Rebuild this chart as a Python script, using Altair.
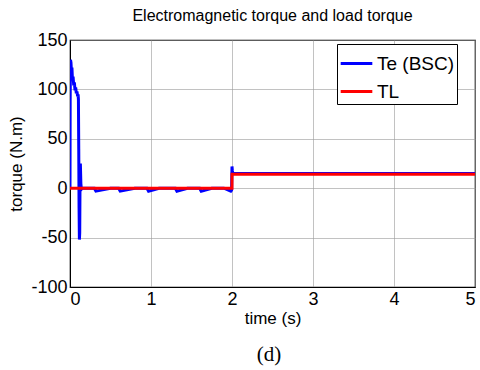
import altair as alt
import pandas as pd

# Electromagnetic torque Te (BSC) samples: start-up transient, steady ripple, load step at 2 s
te_time = [0, 0.002, 0.006, 0.012, 0.018, 0.024, 0.030, 0.038, 0.046, 0.054, 0.062,
           0.070, 0.078, 0.086, 0.094, 0.100, 0.104, 0.108, 0.112, 0.116, 0.120,
           0.124, 0.128, 0.134, 0.140, 0.15, 0.30, 0.32, 0.50, 0.60, 0.62, 0.80,
           0.95, 0.97, 1.10, 1.30, 1.32, 1.45, 1.60, 1.62, 1.75, 1.90, 1.985,
           1.995, 2.000, 2.004, 2.010, 2.030, 2.5, 3.0, 3.5, 4.0, 4.5, 5.0]
te_value = [0, 88, 130, 127, 118, 122, 110, 113, 104, 107, 99,
            102, 96, 98, 93, 95, 90, 40, -20, -52, -45,
            10, 25, 5, -1, 0, 0, -3, 0, 0, -3, 0,
            0, -3, 0, 0, -3, 0, 0, -3, 0, 0, -3,
            -2, 22, 18, 15, 15, 15, 15, 15, 15, 15, 15]

# Load torque TL: zero until 2 s, then a step
tl_time = [0, 2.0, 2.0, 5.0]
tl_value = [0, 0, 14, 14]

series_names = ["Te (BSC)", "TL"]
series_colors = ["#0000FF", "#FF0000"]

te = pd.DataFrame({"t": te_time, "v": te_value, "series": series_names[0], "order": range(len(te_time))})
tl = pd.DataFrame({"t": tl_time, "v": tl_value, "series": series_names[1], "order": range(len(tl_time))})
df = pd.concat([te, tl], ignore_index=True)

color = alt.Color(
    "series:N",
    scale=alt.Scale(domain=series_names, range=series_colors),
    legend=alt.Legend(
        title=None,
        orient="none",
        legendX=267,
        legendY=4,
        symbolType="stroke",
        symbolStrokeWidth=3,
        symbolSize=1000,
        labelFont="Liberation Sans",
        labelFontSize=19,
        labelOffset=3,
        labelColor="black",
        strokeColor="black",
        fillColor="white",
        padding=2,
        rowPadding=-9,
        cornerRadius=0,
    ),
)

plain_label = "replace(datum.label, '\u2212', '-')"

lines = alt.Chart(df).mark_line(strokeWidth=3, clip=True).encode(
    x=alt.X("t:Q", scale=alt.Scale(domain=[0, 5], nice=False),
            axis=alt.Axis(values=[0, 1, 2, 3, 4, 5], title="time (s)", format="d",
                          labelExpr=plain_label)),
    y=alt.Y("v:Q", scale=alt.Scale(domain=[-100, 150], nice=False),
            axis=alt.Axis(values=[-100, -50, 0, 50, 100, 150], title="torque (N.m)", format="d",
                          labelExpr=plain_label)),
    color=color,
    order="order:Q",
    detail="series:N",
)

caption = alt.Chart(pd.DataFrame({"c": ["(d)"]})).mark_text(
    font="Liberation Serif", fontSize=21, color="black", baseline="middle"
).encode(x=alt.value(199), y=alt.value(315), text="c:N")

chart = alt.layer(lines, caption).properties(
    width=405,
    height=247,
    title=alt.TitleParams("Electromagnetic torque and load torque", font="Liberation Sans",
                          fontSize=16, fontWeight="normal", color="black", offset=7),
    autosize=alt.AutoSizeParams(type="none"),
    padding={"left": 70, "top": 40, "right": 5, "bottom": 83},
).configure_view(stroke="black", strokeWidth=1.2).configure_axis(
    grid=True,
    gridColor="#999999",
    gridOpacity=0.6,
    domainColor="black",
    ticks=False,
    labelFont="Liberation Sans",
    labelFontSize=18,
    labelColor="black",
    labelPadding=3,
    titleFont="Liberation Sans",
    titleFontSize=17,
    titleFontWeight="normal",
    titleColor="black",
).configure_axisX(titlePadding=2).configure_axisY(titlePadding=5)

chart.save("out.html", embed_options={"renderer": "svg", "actions": False})
